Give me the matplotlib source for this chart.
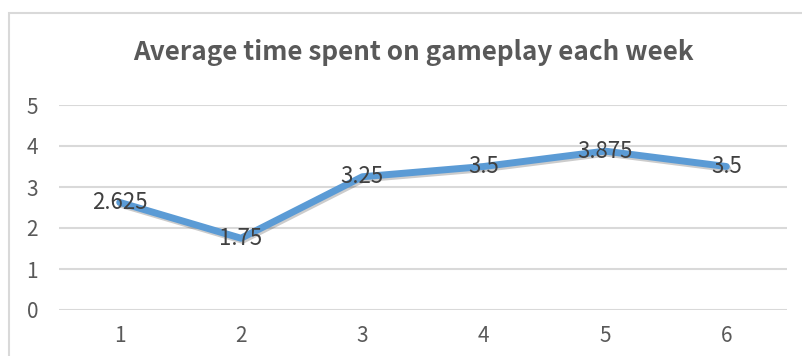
import matplotlib.pyplot as plt
import matplotlib.patheffects as pe
from matplotlib.patches import Rectangle

# weekly averages (hours)
weeks = ["1", "2", "3", "4", "5", "6"]
avg_time = [2.625, 1.75, 3.25, 3.5, 3.875, 3.5]
label_text = ["2.625", "1.75", "3.25", "3.5", "3.875", "3.5"]
y_ticks = [0, 1, 2, 3, 4, 5]

plt.rcParams['font.family'] = ['Noto Sans CJK SC', 'DejaVu Sans']

W, H = 803, 356
fig = plt.figure(figsize=(W / 100, H / 100), dpi=100)

# chart area frame (bottom/right edges fall off the canvas)
fig.patches.append(Rectangle((9 / W, -0.05), 1.2, (H - 13) / H + 0.05,
                             transform=fig.transFigure, fill=False,
                             edgecolor='#D9D9D9', linewidth=1.5))

ax = fig.add_axes([59 / W, (H - 310) / H, (787 - 59) / W, 205 / H])

x = range(len(weeks))
ax.plot(x, avg_time, color='#5B9BD5', linewidth=5, solid_capstyle='round',
        solid_joinstyle='round', zorder=3,
        path_effects=[pe.SimpleLineShadow(offset=(1, -1.5), shadow_color='#000000', alpha=0.2),
                      pe.Normal()])

for xi, yi, t in zip(x, avg_time, label_text):
    ax.text(xi, yi, t, ha='center', va='center', fontsize=16,
            fontweight='light', color='#404040', zorder=4)

ax.set_xlim(-0.5, len(weeks) - 0.5)
ax.set_ylim(0, 5)
ax.set_yticks(y_ticks)
ax.set_xticks(list(x))
ax.set_xticklabels(weeks)

for s in ax.spines.values():
    s.set_visible(False)
ax.grid(axis='y', color='#D9D9D9', linewidth=1.5)
ax.set_axisbelow(True)
ax.tick_params(axis='both', length=0, labelsize=15, labelcolor='#595959')
ax.tick_params(axis='y', pad=15)
ax.tick_params(axis='x', pad=11)
for lbl in ax.get_xticklabels() + ax.get_yticklabels():
    lbl.set_fontweight('light')

fig.text(413 / W, (H - 52) / H, "Average time spent on gameplay each week",
         ha='center', va='center', fontsize=18.8, fontweight='bold',
         color='#595959')

fig.savefig('out.png', dpi=100)
